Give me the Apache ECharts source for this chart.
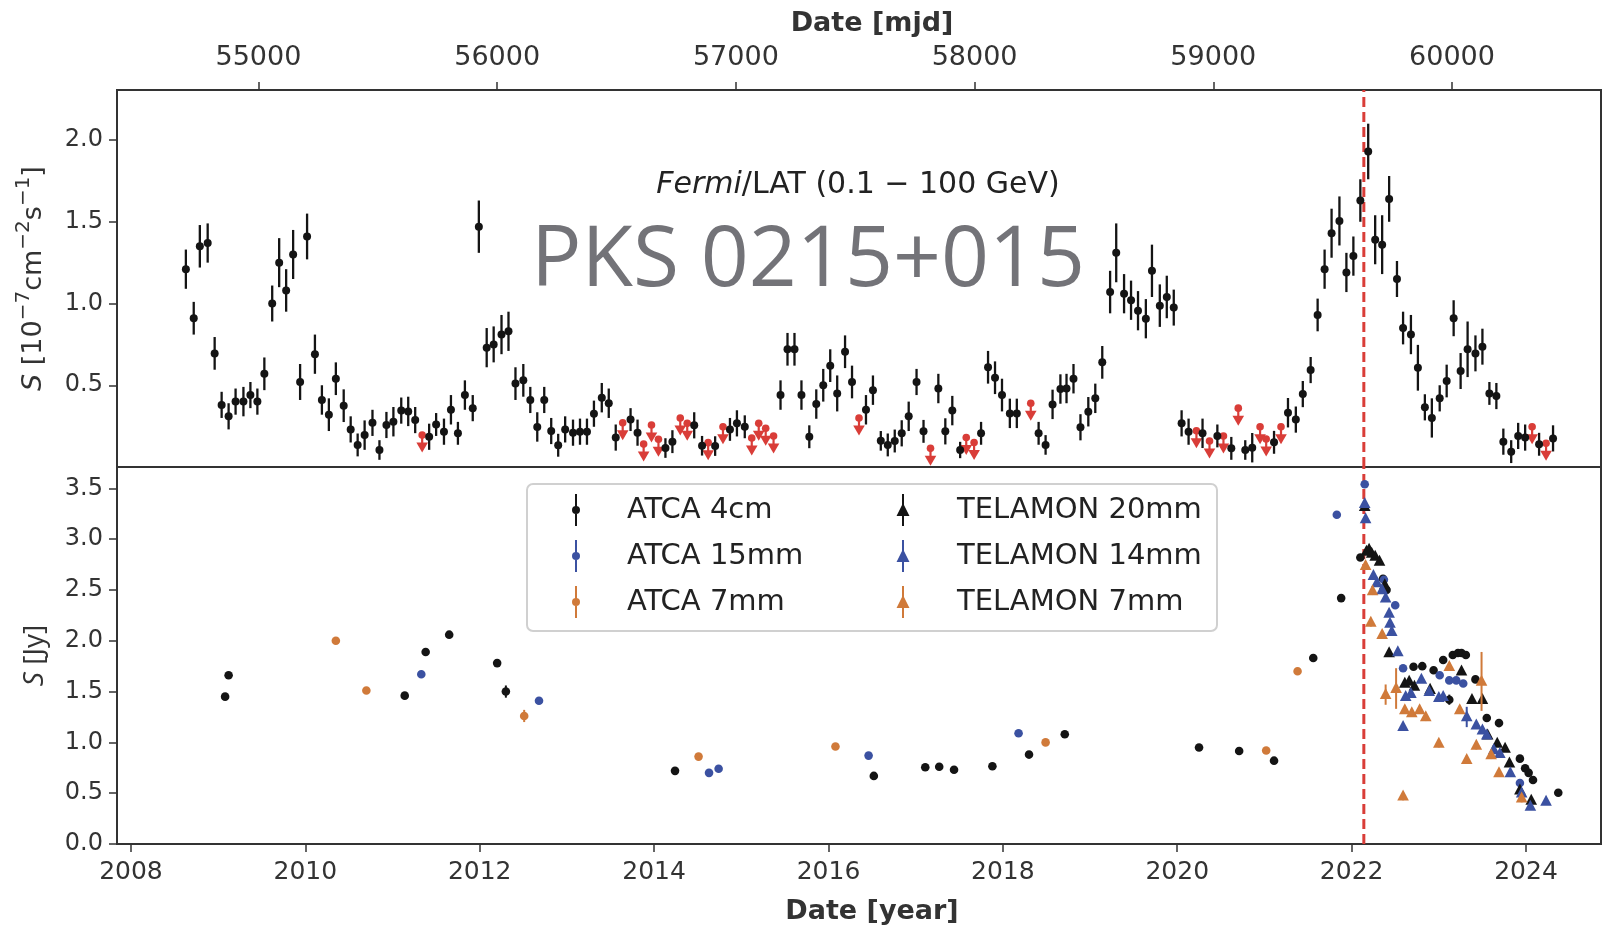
<!DOCTYPE html>
<html>
<head>
<meta charset="utf-8">
<title>PKS 0215+015 light curves</title>
<script src="https://cdn.jsdelivr.net/npm/echarts@6/dist/echarts.min.js"></script>
<style>
  html, body { margin: 0; padding: 0; background: #ffffff; }
  #chart { width: 1604px; height: 932px; }
</style>
</head>
<body>
<div id="chart"></div>
<script>
// ---------------------------------------------------------------------------
// Fermi-LAT monthly bins: [decimal year, flux (1e-7 cm^-2 s^-1), 1-sigma error]
const fermiDetections = [
  [2008.63, 1.21, 0.12], [2008.72, 0.91, 0.10], [2008.79, 1.35, 0.13], [2008.88, 1.37, 0.12],
  [2008.96, 0.695, 0.10], [2009.04, 0.38, 0.08], [2009.12, 0.31, 0.08], [2009.20, 0.40, 0.08],
  [2009.29, 0.40, 0.09], [2009.37, 0.44, 0.08], [2009.45, 0.40, 0.08], [2009.53, 0.57, 0.10],
  [2009.62, 1.00, 0.11], [2009.70, 1.25, 0.15], [2009.78, 1.08, 0.13], [2009.86, 1.30, 0.15],
  [2009.94, 0.52, 0.11], [2010.02, 1.41, 0.14], [2010.11, 0.69, 0.12], [2010.19, 0.41, 0.09],
  [2010.27, 0.32, 0.10], [2010.35, 0.54, 0.10], [2010.44, 0.375, 0.10], [2010.52, 0.23, 0.08],
  [2010.60, 0.135, 0.07], [2010.68, 0.195, 0.09], [2010.77, 0.27, 0.08], [2010.85, 0.104, 0.06],
  [2010.93, 0.257, 0.08], [2011.01, 0.277, 0.09], [2011.10, 0.345, 0.08], [2011.18, 0.34, 0.09],
  [2011.26, 0.287, 0.08], [2011.42, 0.185, 0.08], [2011.50, 0.26, 0.07], [2011.59, 0.216, 0.08],
  [2011.67, 0.35, 0.09], [2011.75, 0.206, 0.07], [2011.83, 0.44, 0.09], [2011.92, 0.36, 0.08],
  [2011.99, 1.47, 0.16], [2012.08, 0.73, 0.12], [2012.16, 0.75, 0.11], [2012.25, 0.81, 0.12],
  [2012.33, 0.83, 0.12], [2012.41, 0.51, 0.10], [2012.50, 0.53, 0.10], [2012.58, 0.41, 0.08],
  [2012.66, 0.245, 0.09], [2012.74, 0.41, 0.08], [2012.82, 0.22, 0.08], [2012.90, 0.133, 0.07],
  [2012.98, 0.23, 0.08], [2013.07, 0.21, 0.08], [2013.15, 0.216, 0.08], [2013.23, 0.216, 0.08],
  [2013.31, 0.326, 0.08], [2013.40, 0.424, 0.09], [2013.48, 0.39, 0.09], [2013.56, 0.18, 0.08],
  [2013.73, 0.29, 0.07], [2013.81, 0.21, 0.08], [2014.13, 0.116, 0.06], [2014.21, 0.155, 0.07],
  [2014.46, 0.255, 0.08], [2014.55, 0.13, 0.06], [2014.70, 0.128, 0.06], [2014.87, 0.23, 0.07],
  [2014.95, 0.267, 0.08], [2015.04, 0.246, 0.07], [2015.45, 0.44, 0.09], [2015.53, 0.72, 0.10],
  [2015.61, 0.72, 0.10], [2015.69, 0.44, 0.09], [2015.78, 0.185, 0.07], [2015.86, 0.385, 0.09],
  [2015.94, 0.50, 0.10], [2016.02, 0.62, 0.10], [2016.10, 0.45, 0.11], [2016.19, 0.705, 0.10],
  [2016.27, 0.52, 0.10], [2016.43, 0.35, 0.09], [2016.51, 0.47, 0.09], [2016.60, 0.16, 0.06],
  [2016.68, 0.135, 0.07], [2016.76, 0.159, 0.07], [2016.84, 0.206, 0.08], [2016.92, 0.31, 0.09],
  [2017.01, 0.52, 0.08], [2017.09, 0.218, 0.07], [2017.26, 0.48, 0.09], [2017.34, 0.218, 0.08],
  [2017.42, 0.345, 0.09], [2017.51, 0.104, 0.05], [2017.75, 0.206, 0.07], [2017.83, 0.61, 0.10],
  [2017.91, 0.546, 0.10], [2017.99, 0.44, 0.10], [2018.08, 0.328, 0.09], [2018.16, 0.328, 0.09],
  [2018.41, 0.206, 0.07], [2018.49, 0.135, 0.06], [2018.57, 0.383, 0.09], [2018.66, 0.477, 0.09],
  [2018.73, 0.48, 0.09], [2018.81, 0.54, 0.09], [2018.89, 0.243, 0.08], [2018.98, 0.338, 0.09],
  [2019.06, 0.42, 0.09], [2019.14, 0.64, 0.10], [2019.23, 1.07, 0.13], [2019.30, 1.31, 0.18],
  [2019.39, 1.06, 0.12], [2019.47, 1.02, 0.12], [2019.55, 0.956, 0.12], [2019.64, 0.907, 0.12],
  [2019.71, 1.20, 0.16], [2019.80, 0.987, 0.13], [2019.88, 1.04, 0.13], [2019.96, 0.975, 0.11],
  [2020.05, 0.267, 0.08], [2020.13, 0.216, 0.08], [2020.29, 0.206, 0.09], [2020.46, 0.19, 0.07],
  [2020.62, 0.114, 0.07], [2020.78, 0.104, 0.06], [2020.86, 0.118, 0.09], [2021.11, 0.151, 0.07],
  [2021.27, 0.332, 0.09], [2021.36, 0.29, 0.08], [2021.44, 0.446, 0.08], [2021.53, 0.593, 0.08],
  [2021.61, 0.93, 0.10], [2021.69, 1.21, 0.12], [2021.77, 1.43, 0.15], [2021.86, 1.505, 0.15],
  [2021.94, 1.19, 0.12], [2022.02, 1.29, 0.12], [2022.10, 1.63, 0.13], [2022.19, 1.93, 0.17],
  [2022.27, 1.39, 0.15], [2022.35, 1.36, 0.18], [2022.43, 1.64, 0.14], [2022.52, 1.15, 0.11],
  [2022.59, 0.85, 0.10], [2022.68, 0.81, 0.12], [2022.76, 0.607, 0.14], [2022.84, 0.365, 0.08],
  [2022.92, 0.30, 0.12], [2023.01, 0.42, 0.08], [2023.09, 0.526, 0.10], [2023.17, 0.91, 0.11],
  [2023.25, 0.587, 0.11], [2023.33, 0.72, 0.17], [2023.42, 0.695, 0.11], [2023.50, 0.736, 0.11],
  [2023.58, 0.45, 0.07], [2023.66, 0.434, 0.08], [2023.74, 0.155, 0.08], [2023.83, 0.094, 0.07],
  [2023.91, 0.19, 0.08], [2023.99, 0.18, 0.08], [2024.15, 0.139, 0.07], [2024.31, 0.175, 0.08]
];

// Fermi-LAT bins with only an upper limit: [decimal year, flux limit]
const fermiUpperLimits = [
  [2011.34, 0.195], [2013.64, 0.27], [2013.88, 0.14], [2013.97, 0.257], [2014.05, 0.17],
  [2014.30, 0.30], [2014.38, 0.267], [2014.62, 0.149], [2014.79, 0.246], [2015.12, 0.177],
  [2015.20, 0.267], [2015.28, 0.237], [2015.37, 0.19], [2016.35, 0.30], [2017.17, 0.114],
  [2017.58, 0.18], [2017.67, 0.15], [2018.32, 0.39], [2020.22, 0.222], [2020.37, 0.159],
  [2020.53, 0.19], [2020.70, 0.36], [2020.95, 0.246], [2021.02, 0.171], [2021.19, 0.246],
  [2024.07, 0.246], [2024.23, 0.145]
];

// Radio flux densities: [decimal year, S (Jy), error]
const atca4cm = [
  [2009.08, 1.45, 0.02], [2009.12, 1.66, 0.02], [2011.14, 1.46, 0.02], [2011.38, 1.89, 0.02],
  [2011.65, 2.06, 0.02], [2012.20, 1.78, 0.02], [2012.30, 1.50, 0.06], [2014.24, 0.72, 0.01],
  [2016.52, 0.67, 0.01], [2017.11, 0.755, 0.01], [2017.27, 0.76, 0.01], [2017.44, 0.73, 0.01],
  [2017.88, 0.765, 0.01], [2018.30, 0.88, 0.01], [2018.71, 1.08, 0.01], [2020.25, 0.95, 0.01],
  [2020.71, 0.915, 0.01], [2021.11, 0.82, 0.01], [2021.56, 1.83, 0.02], [2021.88, 2.42, 0.02],
  [2022.10, 2.82, 0.02], [2022.36, 2.61, 0.02], [2022.40, 2.50, 0.02], [2022.71, 1.745, 0.02],
  [2022.81, 1.75, 0.02], [2022.94, 1.71, 0.02], [2023.05, 1.81, 0.02], [2023.12, 1.42, 0.05],
  [2023.16, 1.86, 0.02], [2023.22, 1.88, 0.02], [2023.26, 1.88, 0.02], [2023.31, 1.86, 0.02],
  [2023.42, 1.62, 0.02], [2023.55, 1.24, 0.02], [2023.69, 1.19, 0.02], [2023.93, 0.84, 0.02],
  [2023.99, 0.745, 0.02], [2024.03, 0.70, 0.02], [2024.08, 0.63, 0.02], [2024.37, 0.505, 0.02]
];
const atca15mm = [
  [2011.33, 1.67, 0.02], [2012.68, 1.41, 0.02], [2014.63, 0.70, 0.01], [2014.74, 0.74, 0.01],
  [2016.46, 0.87, 0.01], [2018.18, 1.09, 0.01], [2021.83, 3.24, 0.02], [2022.15, 3.54, 0.02],
  [2022.37, 2.60, 0.02], [2022.50, 2.35, 0.02], [2022.59, 1.73, 0.02], [2023.01, 1.66, 0.02],
  [2023.12, 1.61, 0.02], [2023.20, 1.61, 0.02], [2023.28, 1.58, 0.02], [2023.93, 0.60, 0.02]
];
const atca7mm = [
  [2010.35, 2.00, 0.02], [2010.70, 1.51, 0.02], [2012.51, 1.26, 0.06], [2014.51, 0.86, 0.01],
  [2016.08, 0.96, 0.01], [2018.49, 1.00, 0.01], [2021.02, 0.92, 0.01], [2021.38, 1.70, 0.02]
];
const telamon20mm = [
  [2022.15, 3.32, 0.03], [2022.17, 2.88, 0.03], [2022.20, 2.90, 0.03], [2022.23, 2.86, 0.03],
  [2022.27, 2.83, 0.03], [2022.32, 2.78, 0.03], [2022.38, 2.55, 0.03], [2022.43, 1.88, 0.03],
  [2022.61, 1.58, 0.03], [2022.66, 1.60, 0.03], [2022.72, 1.55, 0.03], [2022.90, 1.52, 0.03],
  [2023.26, 1.70, 0.03], [2023.38, 1.42, 0.03], [2023.50, 1.42, 0.03], [2023.56, 1.07, 0.03],
  [2023.67, 0.99, 0.03], [2023.76, 0.94, 0.03], [2023.81, 0.795, 0.03], [2023.93, 0.53, 0.03],
  [2024.06, 0.43, 0.03]
];
const telamon14mm = [
  [2022.15, 3.35, 0.03], [2022.16, 3.20, 0.03], [2022.25, 2.64, 0.03], [2022.29, 2.57, 0.03],
  [2022.35, 2.50, 0.03], [2022.39, 2.42, 0.03], [2022.43, 2.27, 0.03], [2022.44, 2.17, 0.03],
  [2022.46, 2.09, 0.03], [2022.53, 1.89, 0.03], [2022.59, 1.155, 0.03], [2022.62, 1.45, 0.03],
  [2022.68, 1.48, 0.03], [2022.80, 1.62, 0.03], [2022.89, 1.50, 0.03], [2023.00, 1.44, 0.03],
  [2023.05, 1.45, 0.03], [2023.32, 1.25, 0.10], [2023.43, 1.17, 0.03], [2023.50, 1.12, 0.03],
  [2023.55, 1.07, 0.03], [2023.63, 0.925, 0.03], [2023.70, 0.89, 0.03], [2023.82, 0.70, 0.03],
  [2023.95, 0.50, 0.03], [2024.05, 0.37, 0.03], [2024.23, 0.42, 0.03]
];
const telamon7mm = [
  [2022.16, 2.74, 0.04], [2022.22, 2.18, 0.04], [2022.24, 2.49, 0.04], [2022.35, 2.06, 0.04],
  [2022.39, 1.47, 0.10], [2022.51, 1.53, 0.20], [2022.59, 0.47, 0.04], [2022.61, 1.32, 0.04],
  [2022.69, 1.29, 0.04], [2022.78, 1.32, 0.04], [2022.85, 1.25, 0.04], [2023.00, 0.99, 0.04],
  [2023.12, 1.745, 0.04], [2023.24, 1.32, 0.04], [2023.32, 0.83, 0.04], [2023.43, 0.97, 0.04],
  [2023.49, 1.60, 0.29], [2023.60, 0.876, 0.04], [2023.69, 0.70, 0.04], [2023.95, 0.45, 0.04]
];

// Axis ticks
const yearTicks = [2008, 2010, 2012, 2014, 2016, 2018, 2020, 2022, 2024];
const mjdTicks = [55000, 56000, 57000, 58000, 59000, 60000];
const fermiTicks = [0.5, 1.0, 1.5, 2.0];
const radioTicks = [0.0, 0.5, 1.0, 1.5, 2.0, 2.5, 3.0, 3.5];

// Date of the gamma-ray flare peak (decimal year)
const flareYear = 2022.14;

// ---------------------------------------------------------------------------
const YEAR_MIN = 2007.84, YEAR_MAX = 2024.86;
const MJD_2008 = 54466;                       // MJD of 2008-01-01
const toMjd = y => MJD_2008 + (y - 2008) * 365.25;
const FERMI_MAX = 2.306, RADIO_MAX = 3.71;

const BLACK = '#141414', BLUE = '#3b51a1', ORANGE = '#d07a3a', RED = '#d93d38';
const FONT = '"DejaVu Sans", sans-serif';
const FONT_ALT = '"Open Sans", "DejaVu Sans", sans-serif';
const TEXT = '#333333';

// Points with vertical error bars; shape is 'circle' or 'triangle'
function errorbarSeries(name, data, color, shape, gridIdx, r, lw) {
  return {
    name: name,
    type: 'custom',
    xAxisIndex: gridIdx === 0 ? 0 : 2,
    yAxisIndex: gridIdx,
    data: data,
    clip: true,
    itemStyle: { color: color },
    encode: { x: 0, y: 1 },
    renderItem: function (params, api) {
      const x = api.value(0), y = api.value(1), e = api.value(2);
      const p = api.coord([x, y]);
      const lo = api.coord([x, y - e]);
      const hi = api.coord([x, y + e]);
      const children = [];
      if (e > 0) {
        children.push({
          type: 'line',
          shape: { x1: p[0], y1: lo[1], x2: p[0], y2: hi[1] },
          style: { stroke: color, lineWidth: lw }
        });
      }
      if (shape === 'circle') {
        children.push({ type: 'circle', shape: { cx: p[0], cy: p[1], r: r }, style: { fill: color } });
      } else {
        children.push({
          type: 'polygon',
          shape: { points: [[p[0], p[1] - r * 1.15], [p[0] + r, p[1] + r * 0.75], [p[0] - r, p[1] + r * 0.75]] },
          style: { fill: color }
        });
      }
      return { type: 'group', children: children };
    }
  };
}

// Upper limits: dot at the limit with an arrow pointing down
const upperLimitSeries = {
  name: 'Fermi UL',
  type: 'custom',
  xAxisIndex: 0,
  yAxisIndex: 0,
  data: fermiUpperLimits,
  clip: true,
  encode: { x: 0, y: 1 },
  renderItem: function (params, api) {
    const p = api.coord([api.value(0), api.value(1)]);
    return {
      type: 'group',
      children: [
        { type: 'line', shape: { x1: p[0], y1: p[1], x2: p[0], y2: p[1] + 10 }, style: { stroke: RED, lineWidth: 2.2 } },
        { type: 'circle', shape: { cx: p[0], cy: p[1], r: 3.8 }, style: { fill: RED } },
        { type: 'polygon', shape: { points: [[p[0] - 5.8, p[1] + 7.5], [p[0] + 5.8, p[1] + 7.5], [p[0], p[1] + 17.5]] }, style: { fill: RED } }
      ]
    };
  }
};

function flareLine(gridIdx, yMax) {
  return {
    name: 'flare',
    type: 'line',
    xAxisIndex: gridIdx === 0 ? 0 : 2,
    yAxisIndex: gridIdx,
    data: [[flareYear, 0], [flareYear, yMax]],
    symbol: 'none',
    silent: true,
    z: 1,
    lineStyle: { color: RED, width: 3, type: [10, 5] }
  };
}

const ICON_DOT = 'path://M0,0M14,32M6,0H8V32H6ZM11,16A4,4,0,1,1,3,16A4,4,0,1,1,11,16Z';
const ICON_TRI = 'path://M0,0M14,32M6,0H8V32H6ZM7,9L13.5,22H0.5Z';

const titleStyle = { fontSize: 27, fontWeight: 'bold', color: TEXT, fontFamily: FONT, padding: [0, 0, 0, 26] };

const option = {
  animation: false,
  backgroundColor: '#ffffff',
  grid: [
    { left: 117, right: 3, top: 90, height: 377, show: true, borderColor: '#333', borderWidth: 2, backgroundColor: 'transparent' },
    { left: 117, right: 3, top: 467, height: 377, show: true, borderColor: '#333', borderWidth: 2, backgroundColor: 'transparent' }
  ],
  xAxis: [
    {
      type: 'value', gridIndex: 0, position: 'bottom', min: YEAR_MIN, max: YEAR_MAX,
      axisLine: { show: false }, axisTick: { show: false }, axisLabel: { show: false }, splitLine: { show: false }
    },
    {
      type: 'value', gridIndex: 0, position: 'top', min: toMjd(YEAR_MIN), max: toMjd(YEAR_MAX),
      name: 'Date [mjd]', nameLocation: 'middle', nameGap: 53, nameTextStyle: titleStyle,
      axisLine: { show: false },
      axisTick: { show: true, inside: false, length: 8, customValues: mjdTicks, lineStyle: { color: '#333', width: 1.5 } },
      axisLabel: { margin: 19, customValues: mjdTicks, formatter: v => String(Math.round(v)), fontSize: 27, color: TEXT, fontFamily: FONT },
      splitLine: { show: false }
    },
    {
      type: 'value', gridIndex: 1, position: 'bottom', min: YEAR_MIN, max: YEAR_MAX,
      name: 'Date [year]', nameLocation: 'middle', nameGap: 54, nameTextStyle: titleStyle,
      axisLine: { show: false },
      axisTick: { show: true, inside: false, length: 8, customValues: yearTicks, lineStyle: { color: '#333', width: 1.5 } },
      axisLabel: { margin: 16, customValues: yearTicks, formatter: v => String(Math.round(v)), fontSize: 25, color: TEXT, fontFamily: FONT },
      splitLine: { show: false }
    }
  ],
  yAxis: [
    {
      type: 'value', gridIndex: 0, min: 0, max: FERMI_MAX,
      name: '{i|S} [10{sup|\u22127}cm{sup|\u22122}s{sup|\u22121}]',
      nameLocation: 'middle', nameGap: 60, nameRotate: 90,
      nameTextStyle: {
        fontSize: 27, lineHeight: 40, color: TEXT, fontFamily: FONT,
        rich: {
          i: { fontSize: 27, lineHeight: 40, fontStyle: 'italic', color: TEXT, fontFamily: FONT },
          sup: { fontSize: 20, lineHeight: 20, verticalAlign: 'top', color: TEXT, fontFamily: FONT }
        }
      },
      axisLine: { show: false },
      axisTick: { show: true, inside: false, length: 8, customValues: fermiTicks, lineStyle: { color: '#333', width: 1.5 } },
      axisLabel: { margin: 14, customValues: fermiTicks, formatter: v => v.toFixed(1), fontSize: 24, color: TEXT, fontFamily: FONT },
      splitLine: { show: false }
    },
    {
      type: 'value', gridIndex: 1, min: 0, max: RADIO_MAX,
      name: '{i|S} [Jy]', nameLocation: 'middle', nameGap: 68, nameRotate: 90,
      nameTextStyle: { fontSize: 28, color: TEXT, fontFamily: FONT_ALT, rich: { i: { fontSize: 28, fontStyle: 'italic', color: TEXT, fontFamily: FONT_ALT } } },
      axisLine: { show: false },
      axisTick: { show: true, inside: false, length: 8, customValues: radioTicks, lineStyle: { color: '#333', width: 1.5 } },
      axisLabel: { margin: 14, customValues: radioTicks, formatter: v => v.toFixed(1), fontSize: 24, color: TEXT, fontFamily: FONT },
      splitLine: { show: false }
    }
  ],
  legend: [
    {
      orient: 'vertical', left: 564, top: 489, itemWidth: 14, itemHeight: 32, itemGap: 14,
      selectedMode: false,
      textStyle: { fontSize: 29, color: '#222', fontFamily: FONT, padding: [0, 0, 0, 39] },
      data: [
        { name: 'ATCA 4cm', icon: ICON_DOT, itemStyle: { color: BLACK } },
        { name: 'ATCA 15mm', icon: ICON_DOT, itemStyle: { color: BLUE } },
        { name: 'ATCA 7mm', icon: ICON_DOT, itemStyle: { color: ORANGE } }
      ]
    },
    {
      orient: 'vertical', left: 891, top: 489, itemWidth: 14, itemHeight: 32, itemGap: 14,
      selectedMode: false,
      textStyle: { fontSize: 29, color: '#222', fontFamily: FONT, padding: [0, 0, 0, 42] },
      data: [
        { name: 'TELAMON 20mm', icon: ICON_TRI, itemStyle: { color: BLACK } },
        { name: 'TELAMON 14mm', icon: ICON_TRI, itemStyle: { color: BLUE } },
        { name: 'TELAMON 7mm', icon: ICON_TRI, itemStyle: { color: ORANGE } }
      ]
    }
  ],
  graphic: [
    {
      type: 'rect', z: 3,
      shape: { x: 527, y: 484, width: 690, height: 147, r: 6 },
      style: { fill: 'rgba(255,255,255,0.85)', stroke: '#d0d0d0', lineWidth: 2 }
    },
    {
      type: 'text', z: 5, x: 858, y: 185,
      style: {
        text: '{it|Fermi}/LAT (0.1 \u2212 100 GeV)',
        align: 'center', verticalAlign: 'middle',
        fontSize: 30, fill: '#222', fontFamily: FONT,
        rich: { it: { fontSize: 30, fontStyle: 'italic', fill: '#222', fontFamily: FONT } }
      }
    },
    {
      type: 'text', z: 5, x: 808, y: 262,
      style: {
        text: 'PKS 0215+015', align: 'center', verticalAlign: 'middle',
        fontSize: 84, fill: '#737378', fontFamily: FONT_ALT
      }
    }
  ],
  series: [
    flareLine(0, FERMI_MAX),
    flareLine(1, RADIO_MAX),
    upperLimitSeries,
    errorbarSeries('Fermi', fermiDetections, BLACK, 'circle', 0, 4, 2.3),
    errorbarSeries('ATCA 4cm', atca4cm, BLACK, 'circle', 1, 4.3, 2),
    errorbarSeries('ATCA 15mm', atca15mm, BLUE, 'circle', 1, 4.3, 2),
    errorbarSeries('ATCA 7mm', atca7mm, ORANGE, 'circle', 1, 4.3, 2),
    errorbarSeries('TELAMON 20mm', telamon20mm, BLACK, 'triangle', 1, 5.8, 2),
    errorbarSeries('TELAMON 14mm', telamon14mm, BLUE, 'triangle', 1, 5.8, 2),
    errorbarSeries('TELAMON 7mm', telamon7mm, ORANGE, 'triangle', 1, 5.8, 2)
  ]
};

const chart = echarts.init(document.getElementById('chart'), null, { renderer: 'canvas' });
chart.setOption(option);
</script>
</body>
</html>
